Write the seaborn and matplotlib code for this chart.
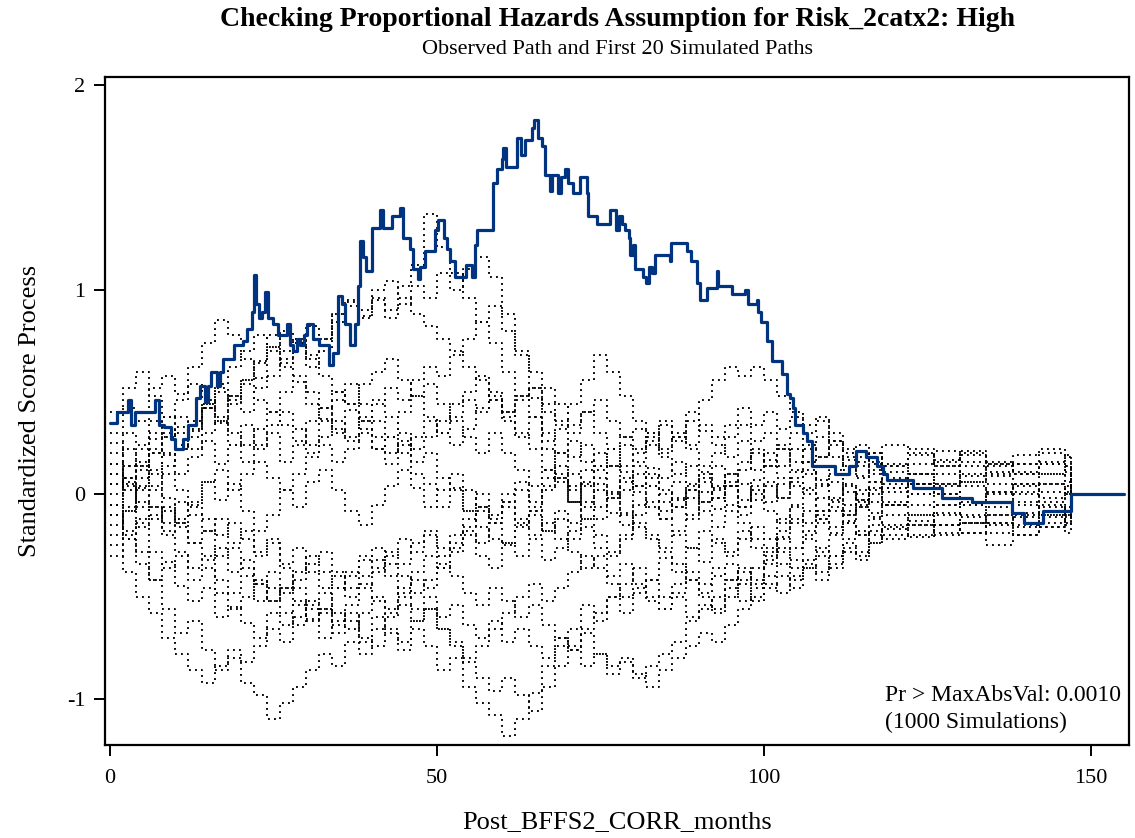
import numpy as np
import pandas as pd
import matplotlib
matplotlib.use("Agg")
import matplotlib.pyplot as plt
import seaborn as sns

# ---------------- data ----------------
title = "Checking Proportional Hazards Assumption for Risk_2catx2: High"
subtitle = "Observed Path and First 20 Simulated Paths"
x_label = "Post_BFFS2_CORR_months"
y_label = "Standardized Score Process"
x_ticks = [0, 50, 100, 150]
y_ticks = [-1, 0, 1, 2]
note_lines = ["Pr > MaxAbsVal: 0.0010", "(1000 Simulations)"]

# observed path (step function: time where value changes, value after change)
obs_t = [0.0, 1.0, 2.8, 3.2, 3.8, 6.9, 7.5, 8.2, 9.4, 10.0, 11.2, 12.0, 13.2, 13.8, 14.6, 15.0,
         15.5, 16.3, 16.8, 17.3, 18.9, 20.4, 20.9, 21.7, 22.0, 22.3, 22.8, 23.2, 23.7, 24.2,
         25.0, 25.7, 27.0, 27.5, 28.0, 28.6, 29.1, 29.6, 30.2, 31.1, 31.9, 33.5, 34.1, 34.8,
         35.4, 35.9, 36.7, 37.5, 37.9, 38.2, 38.7, 39.2, 40.0, 41.3, 41.8, 43.1, 44.3, 44.8,
         45.9, 46.4, 47.1, 47.4, 48.2, 49.7, 50.2, 51.0, 51.5, 52.0, 52.8, 54.5, 55.3, 55.8,
         56.1, 58.6, 59.1, 59.9, 60.1, 60.6, 62.2, 62.9, 63.5, 64.5, 64.8, 65.4, 66.0, 66.5,
         67.3, 67.6, 68.5, 69.0, 69.6, 70.1, 70.8, 71.9, 72.9, 73.1, 74.4, 76.5, 77.3, 77.8,
         78.3, 78.8, 79.3, 79.5, 79.9, 80.3, 81.5, 82.0, 82.4, 82.8, 83.3, 85.6, 85.7, 88.2,
         88.9, 89.7, 90.2, 91.3, 92.8, 93.0, 95.1, 97.1, 97.6, 98.9, 99.1, 99.6, 100.4, 101.2,
         102.7, 103.5, 104.0, 104.4, 104.7, 106.0, 106.5, 107.3, 110.9, 113.0, 114.0, 115.6,
         117.3, 118.2, 118.8, 122.8, 127.2, 131.8, 137.9, 139.8, 142.6, 147.0, 155.0]
obs_y = [0.35, 0.40, 0.46, 0.34, 0.40, 0.46, 0.34, 0.33, 0.27, 0.22, 0.27, 0.34, 0.47, 0.53, 0.45, 0.53,
         0.60, 0.53, 0.60, 0.66, 0.73, 0.75, 0.81, 0.89, 1.07, 0.93, 0.86, 0.89, 0.99, 0.86,
         0.83, 0.78, 0.83, 0.73, 0.70, 0.76, 0.73, 0.78, 0.83, 0.76, 0.73, 0.63, 0.69, 0.97,
         0.93, 0.83, 0.73, 0.83, 1.02, 1.24, 1.16, 1.09, 1.30, 1.39, 1.30, 1.36, 1.40, 1.25,
         1.20, 1.10, 1.05, 1.11, 1.19, 1.29, 1.34, 1.25, 1.20, 1.14, 1.06, 1.12, 1.06, 1.22,
         1.29, 1.52, 1.59, 1.64, 1.69, 1.60, 1.74, 1.66, 1.73, 1.79, 1.83, 1.74, 1.70, 1.56,
         1.48, 1.56, 1.47, 1.55, 1.59, 1.52, 1.47, 1.55, 1.47, 1.36, 1.32, 1.39, 1.29, 1.36,
         1.32, 1.29, 1.25, 1.17, 1.22, 1.10, 1.06, 1.03, 1.11, 1.08, 1.17, 1.14, 1.23, 1.19,
         1.14, 1.03, 0.95, 1.01, 1.09, 1.02, 0.98, 1.00, 0.93, 0.95, 0.89, 0.84, 0.75, 0.65,
         0.59, 0.49, 0.47, 0.42, 0.34, 0.30, 0.26, 0.14, 0.10, 0.14, 0.21, 0.18,
         0.14, 0.10, 0.07, 0.03, -0.02, -0.04, -0.09, -0.14, -0.08, 0.00, 0.00]

# simulated paths on a common time grid (months)
sim_t = [0, 2, 4, 6, 8, 10, 12, 14, 16, 18,
         20, 22, 24, 26, 28, 30, 32, 34, 36, 38,
         40, 42, 44, 46, 48, 50, 52, 54, 56, 58,
         60, 62, 64, 66, 68, 70, 72, 74, 76, 78,
         80, 82, 84, 86, 88, 90, 92, 94, 96, 98,
         100, 102, 104, 106, 108, 110, 112, 114, 116, 118,
         122, 126, 130, 134, 138, 142, 146, 147]

sim_01 = [0.30, 0.42, 0.36, 0.52, 0.58, 0.49, 0.62, 0.74, 0.85, 0.78,
          0.66, 0.57, 0.72, 0.64, 0.55, 0.44, 0.37, 0.30, 0.41, 0.32,
          0.22, 0.15, 0.24, 0.10, 0.05, -0.06, 0.03, -0.08, -0.16, -0.22,
          -0.25, -0.15, -0.08, 0.02, 0.08, -0.04, 0.05, 0.12, 0.01, -0.09,
          0.04, 0.13, 0.08, 0.16, 0.05, 0.11, -0.02, 0.04, -0.06, 0.07,
          0.17, 0.22, 0.12, 0.16, 0.05, 0.10, 0.01, -0.03, 0.06, 0.03,
          0.10, 0.05, 0.14, 0.09, 0.04, 0.10, 0.06, 0.0]
sim_02 = [0.10, 0.22, 0.14, 0.27, 0.19, 0.33, 0.28, 0.42, 0.50, 0.44,
          0.56, 0.65, 0.78, 0.70, 0.76, 0.62, 0.70, 0.84, 0.92, 0.86,
          0.96, 0.90, 1.02, 1.12, 1.37, 1.21, 1.08, 0.96, 0.84, 0.74,
          0.60, 0.48, 0.38, 0.26, 0.32, 0.18, 0.24, 0.14, 0.22, 0.11,
          0.20, 0.30, 0.36, 0.26, 0.40, 0.31, 0.24, 0.18, 0.26, 0.12,
          0.20, 0.14, 0.22, 0.16, 0.07, 0.12, 0.17, 0.09, 0.15, 0.11,
          0.19, 0.14, 0.10, 0.16, 0.11, 0.15, 0.09, 0.0]
sim_03 = [-0.05, 0.08, 0.16, 0.04, 0.14, 0.22, 0.31, 0.42, 0.35, 0.48,
          0.40, 0.52, 0.58, 0.66, 0.73, 0.68, 0.76, 0.88, 0.94, 0.87,
          0.95, 0.86, 0.93, 1.02, 0.96, 1.08, 1.00, 1.10, 1.16, 1.06,
          0.88, 0.68, 0.47, 0.22, 0.08, -0.04, -0.12, 0.02, -0.09, -0.15,
          -0.05, 0.04, -0.08, -0.02, -0.12, 0.01, -0.07, 0.06, -0.03, 0.04,
          -0.04, 0.05, 0.11, 0.03, -0.02, 0.06, -0.05, 0.02, -0.04, 0.03,
          0.00, 0.05, -0.04, 0.01, 0.05, -0.02, 0.04, 0.0]
sim_04 = [-0.10, -0.22, -0.34, -0.42, -0.33, -0.45, -0.52, -0.46, -0.60, -0.55,
          -0.63, -0.70, -0.58, -0.64, -0.52, -0.61, -0.56, -0.68, -0.62, -0.72,
          -0.60, -0.68, -0.76, -0.66, -0.74, -0.86, -0.80, -0.94, -1.02, -1.08,
          -1.18, -1.10, -0.97, -0.84, -0.74, -0.66, -0.54, -0.62, -0.50, -0.44,
          -0.36, -0.42, -0.31, -0.38, -0.26, -0.33, -0.22, -0.28, -0.18, -0.26,
          -0.30, -0.21, -0.26, -0.18, -0.12, -0.19, -0.13, -0.20, -0.15, -0.10,
          -0.15, -0.09, -0.14, -0.06, -0.11, -0.16, -0.10, 0.0]
sim_05 = [-0.05, -0.18, -0.28, -0.42, -0.56, -0.68, -0.62, -0.76, -0.86, -0.80,
          -0.92, -0.98, -1.10, -1.02, -0.94, -0.86, -0.78, -0.84, -0.72, -0.78,
          -0.66, -0.58, -0.50, -0.42, -0.46, -0.36, -0.28, -0.20, -0.30, -0.36,
          -0.24, -0.16, -0.10, -0.18, -0.08, -0.14, -0.04, 0.05, -0.02, 0.08,
          0.01, -0.06, -0.12, -0.03, 0.04, -0.04, 0.02, 0.10, 0.05, -0.03,
          0.04, -0.02, 0.06, 0.00, -0.08, -0.02, 0.04, -0.03, 0.03, -0.05,
          0.00, -0.05, 0.04, 0.00, -0.05, 0.01, -0.05, 0.0]
sim_06 = [0.05, -0.08, 0.03, 0.12, 0.20, 0.10, 0.18, 0.26, 0.15, 0.24,
          0.34, 0.22, 0.30, 0.16, 0.24, 0.36, 0.42, 0.32, 0.26, 0.38,
          0.46, 0.38, 0.30, 0.22, 0.28, 0.36, 0.44, 0.50, 0.58, 0.46,
          0.40, 0.48, 0.52, 0.40, 0.34, 0.44, 0.56, 0.68, 0.60, 0.48,
          0.36, 0.30, 0.22, 0.28, 0.36, 0.46, 0.56, 0.62, 0.58, 0.62,
          0.56, 0.48, 0.40, 0.34, 0.38, 0.30, 0.22, 0.16, 0.20, 0.14,
          0.22, 0.17, 0.21, 0.15, 0.19, 0.22, 0.18, 0.0]
sim_07 = [0.15, 0.05, -0.04, -0.12, -0.06, -0.16, -0.24, -0.18, -0.30, -0.26,
          -0.36, -0.44, -0.38, -0.48, -0.42, -0.34, -0.28, -0.38, -0.46, -0.40,
          -0.32, -0.40, -0.48, -0.56, -0.50, -0.60, -0.54, -0.64, -0.70, -0.62,
          -0.72, -0.66, -0.74, -0.80, -0.70, -0.76, -0.84, -0.78, -0.88, -0.82,
          -0.90, -0.84, -0.78, -0.72, -0.62, -0.56, -0.50, -0.42, -0.36, -0.42,
          -0.32, -0.26, -0.32, -0.22, -0.28, -0.20, -0.14, -0.20, -0.12, -0.17,
          -0.13, -0.19, -0.14, -0.10, -0.16, -0.11, -0.15, 0.0]
sim_08 = [-0.20, -0.08, 0.04, 0.10, -0.02, -0.12, -0.04, 0.06, -0.03, 0.05,
          -0.08, -0.18, -0.10, 0.02, -0.06, 0.06, 0.12, 0.02, -0.08, -0.15,
          -0.05, 0.04, 0.12, 0.03, -0.06, 0.02, 0.10, 0.02, -0.06, -0.12,
          0.00, 0.06, -0.04, 0.08, 0.14, 0.04, -0.06, -0.12, -0.02, 0.06,
          0.14, 0.08, 0.00, -0.06, 0.02, 0.10, 0.03, -0.05, -0.10, 0.00,
          0.06, -0.02, 0.08, 0.12, 0.04, -0.03, 0.05, -0.05, 0.02, 0.08,
          0.05, 0.00, 0.06, -0.04, 0.01, 0.05, 0.00, 0.0]
sim_09 = [0.20, 0.30, 0.24, 0.36, 0.28, 0.38, 0.32, 0.44, 0.52, 0.46,
          0.56, 0.64, 0.70, 0.62, 0.74, 0.82, 0.76, 0.88, 0.95, 0.90,
          1.00, 1.04, 0.96, 0.88, 0.82, 0.76, 0.70, 0.62, 0.56, 0.46,
          0.36, 0.28, 0.38, 0.30, 0.20, 0.26, 0.16, 0.08, 0.14, 0.02,
          0.10, 0.04, -0.04, 0.06, -0.02, 0.08, 0.14, 0.04, 0.12, 0.20,
          0.14, 0.24, 0.30, 0.22, 0.28, 0.18, 0.12, 0.18, 0.10, 0.15,
          0.10, 0.16, 0.20, 0.14, 0.10, 0.16, 0.11, 0.0]
sim_10 = [-0.15, -0.06, -0.16, -0.10, -0.20, -0.14, -0.24, -0.32, -0.26, -0.38,
          -0.32, -0.44, -0.52, -0.46, -0.54, -0.62, -0.56, -0.64, -0.58, -0.70,
          -0.74, -0.66, -0.72, -0.62, -0.56, -0.66, -0.72, -0.80, -0.74, -0.66,
          -0.58, -0.50, -0.44, -0.52, -0.46, -0.38, -0.30, -0.36, -0.44, -0.50,
          -0.46, -0.52, -0.56, -0.48, -0.42, -0.50, -0.56, -0.46, -0.38, -0.44,
          -0.34, -0.28, -0.36, -0.32, -0.26, -0.30, -0.22, -0.18, -0.24, -0.15,
          -0.10, -0.15, -0.10, -0.14, -0.09, -0.05, -0.10, 0.0]
sim_11 = [0.40, 0.52, 0.60, 0.48, 0.38, 0.30, 0.22, 0.30, 0.36, 0.24,
          0.16, 0.24, 0.34, 0.40, 0.32, 0.24, 0.36, 0.46, 0.54, 0.44,
          0.36, 0.28, 0.40, 0.48, 0.38, 0.30, 0.24, 0.32, 0.42, 0.50,
          0.40, 0.30, 0.22, 0.12, 0.20, 0.10, 0.04, 0.14, 0.22, 0.28,
          0.32, 0.24, 0.18, 0.10, 0.14, 0.06, -0.02, 0.04, -0.06, 0.02,
          -0.08, -0.14, -0.05, 0.02, -0.10, -0.16, -0.08, 0.00, 0.06, 0.01,
          0.05, 0.10, 0.06, 0.11, 0.15, 0.10, 0.14, 0.0]
sim_12 = [0.00, 0.08, 0.02, -0.06, -0.14, -0.04, -0.10, -0.18, -0.12, -0.24,
          -0.18, -0.28, -0.22, -0.34, -0.26, -0.38, -0.46, -0.40, -0.50, -0.44,
          -0.52, -0.60, -0.54, -0.62, -0.56, -0.66, -0.74, -0.82, -0.90, -0.96,
          -0.90, -0.98, -1.06, -0.94, -0.84, -0.74, -0.66, -0.58, -0.50, -0.58,
          -0.48, -0.42, -0.50, -0.44, -0.38, -0.44, -0.36, -0.42, -0.52, -0.46,
          -0.40, -0.34, -0.42, -0.36, -0.30, -0.36, -0.28, -0.32, -0.24, -0.20,
          -0.20, -0.15, -0.19, -0.14, -0.20, -0.16, -0.11, 0.0]
sim_13 = [0.10, 0.02, 0.12, 0.22, 0.30, 0.24, 0.36, 0.44, 0.54, 0.62,
          0.70, 0.78, 0.72, 0.80, 0.74, 0.66, 0.58, 0.50, 0.44, 0.36,
          0.28, 0.20, 0.26, 0.16, 0.20, 0.08, 0.02, -0.08, 0.00, -0.10,
          -0.04, -0.14, -0.08, -0.18, -0.12, -0.22, -0.16, -0.26, -0.30, -0.20,
          -0.10, -0.04, -0.12, -0.20, -0.26, -0.18, -0.24, -0.30, -0.22, -0.16,
          -0.22, -0.12, -0.06, -0.14, -0.08, -0.04, -0.10, -0.06, -0.11, -0.05,
          -0.10, -0.05, -0.11, -0.15, -0.10, -0.06, -0.10, 0.0]
sim_14 = [-0.25, -0.38, -0.50, -0.58, -0.70, -0.78, -0.86, -0.92, -0.84, -0.76,
          -0.82, -0.74, -0.66, -0.72, -0.60, -0.52, -0.58, -0.46, -0.38, -0.30,
          -0.36, -0.28, -0.34, -0.24, -0.18, -0.26, -0.20, -0.12, -0.06, -0.14,
          -0.04, 0.02, -0.06, 0.04, 0.10, 0.02, 0.12, 0.20, 0.14, 0.24,
          0.16, 0.26, 0.34, 0.28, 0.22, 0.14, 0.20, 0.28, 0.34, 0.26,
          0.30, 0.22, 0.16, 0.24, 0.18, 0.26, 0.14, 0.08, 0.12, 0.05,
          0.10, 0.04, 0.09, 0.05, 0.00, 0.05, 0.01, 0.0]
sim_15 = [-0.10, -0.22, -0.14, -0.28, -0.36, -0.30, -0.42, -0.36, -0.48, -0.56,
          -0.50, -0.42, -0.52, -0.46, -0.38, -0.30, -0.38, -0.46, -0.40, -0.32,
          -0.26, -0.34, -0.40, -0.48, -0.42, -0.34, -0.40, -0.48, -0.54, -0.46,
          -0.52, -0.60, -0.54, -0.64, -0.70, -0.76, -0.68, -0.78, -0.84, -0.80,
          -0.88, -0.94, -0.86, -0.80, -0.74, -0.68, -0.72, -0.64, -0.56, -0.50,
          -0.44, -0.48, -0.40, -0.34, -0.38, -0.30, -0.24, -0.28, -0.18, -0.22,
          -0.15, -0.20, -0.14, -0.19, -0.15, -0.10, -0.14, 0.0]
sim_16 = [0.15, 0.06, 0.14, 0.20, 0.10, 0.02, -0.05, 0.06, 0.12, 0.02,
          0.10, 0.16, 0.08, 0.02, 0.10, 0.18, 0.24, 0.16, 0.22, 0.30,
          0.22, 0.28, 0.20, 0.28, 0.36, 0.30, 0.38, 0.46, 0.40, 0.48,
          0.38, 0.46, 0.52, 0.44, 0.36, 0.30, 0.40, 0.46, 0.36, 0.28,
          0.22, 0.28, 0.20, 0.30, 0.24, 0.34, 0.28, 0.34, 0.42, 0.34,
          0.40, 0.32, 0.38, 0.30, 0.36, 0.26, 0.18, 0.24, 0.16, 0.24,
          0.20, 0.14, 0.19, 0.15, 0.10, 0.15, 0.19, 0.0]
sim_17 = [-0.30, -0.20, -0.12, -0.06, -0.18, -0.28, -0.36, -0.30, -0.42, -0.48,
          -0.40, -0.52, -0.46, -0.58, -0.64, -0.56, -0.70, -0.62, -0.54, -0.46,
          -0.38, -0.30, -0.22, -0.28, -0.20, -0.30, -0.24, -0.16, -0.08, -0.14,
          -0.24, -0.30, -0.22, -0.32, -0.26, -0.18, -0.12, -0.20, -0.28, -0.22,
          -0.14, -0.20, -0.28, -0.34, -0.42, -0.48, -0.40, -0.34, -0.42, -0.36,
          -0.28, -0.22, -0.14, -0.08, -0.12, -0.06, -0.10, -0.04, -0.09, -0.05,
          -0.05, -0.10, -0.05, -0.10, -0.04, -0.10, -0.06, 0.0]
sim_18 = [0.05, 0.14, 0.22, 0.30, 0.38, 0.46, 0.54, 0.46, 0.38, 0.30,
          0.24, 0.32, 0.40, 0.34, 0.26, 0.20, 0.28, 0.36, 0.28, 0.36,
          0.44, 0.52, 0.46, 0.56, 0.62, 0.58, 0.68, 0.76, 0.84, 0.92,
          0.80, 0.70, 0.60, 0.52, 0.44, 0.34, 0.40, 0.30, 0.22, 0.14,
          0.04, 0.10, 0.02, -0.06, 0.02, -0.08, -0.16, -0.08, -0.14, -0.22,
          -0.26, -0.18, -0.12, -0.20, -0.14, -0.08, -0.14, -0.06, 0.00, -0.04,
          0.05, 0.00, -0.05, 0.01, 0.05, -0.04, 0.00, 0.0]
sim_19 = [-0.05, 0.04, -0.06, 0.02, -0.08, -0.14, -0.06, -0.12, -0.20, -0.14,
          -0.22, -0.30, -0.24, -0.36, -0.46, -0.54, -0.48, -0.58, -0.66, -0.58,
          -0.50, -0.56, -0.46, -0.38, -0.30, -0.36, -0.26, -0.18, -0.24, -0.14,
          -0.06, -0.12, -0.20, -0.14, -0.22, -0.28, -0.36, -0.30, -0.40, -0.34,
          -0.44, -0.50, -0.56, -0.50, -0.60, -0.54, -0.58, -0.50, -0.44, -0.52,
          -0.46, -0.40, -0.46, -0.36, -0.42, -0.34, -0.26, -0.30, -0.20, -0.16,
          -0.21, -0.15, -0.19, -0.25, -0.20, -0.14, -0.19, 0.0]
sim_20 = [0.25, 0.14, 0.08, 0.20, 0.28, 0.22, 0.34, 0.42, 0.36, 0.48,
          0.54, 0.46, 0.40, 0.50, 0.58, 0.50, 0.42, 0.50, 0.44, 0.54,
          0.60, 0.66, 0.56, 0.48, 0.54, 0.44, 0.36, 0.28, 0.20, 0.30,
          0.20, 0.12, 0.04, 0.12, 0.06, -0.04, 0.06, -0.06, 0.00, -0.10,
          -0.16, -0.22, -0.26, -0.18, -0.10, -0.04, 0.04, 0.10, 0.16, 0.22,
          0.14, 0.08, 0.04, 0.10, 0.18, 0.24, 0.20, 0.14, 0.20, 0.14,
          0.15, 0.21, 0.16, 0.10, 0.15, 0.20, 0.14, 0.0]

sim_paths = [sim_01, sim_02, sim_03, sim_04, sim_05, sim_06, sim_07, sim_08, sim_09, sim_10,
             sim_11, sim_12, sim_13, sim_14, sim_15, sim_16, sim_17, sim_18, sim_19, sim_20]

# ---------------- tables ----------------
sim_df = pd.concat(
    [pd.DataFrame({"t": sim_t, "v": p, "path": i}) for i, p in enumerate(sim_paths)],
    ignore_index=True)
obs_df = pd.DataFrame({"t": obs_t, "v": obs_y})

# ---------------- style ----------------
sns.set_theme(style="white")
plt.rcParams["font.family"] = ["Liberation Serif", "DejaVu Serif"]
for k in ["text.color", "axes.labelcolor", "xtick.color", "ytick.color", "axes.edgecolor"]:
    plt.rcParams[k] = "black"

W, H = 1135, 838
fig = plt.figure(figsize=(W / 100, H / 100), dpi=100)
left, right, top, bottom = 105, 1129, 77, 745
ax = fig.add_axes([left / W, (H - bottom) / H, (right - left) / W, (bottom - top) / H])

sns.lineplot(data=sim_df, x="t", y="v", units="path", estimator=None, ax=ax,
             color="black", linestyle=(0, (1.0, 2.2)), linewidth=1.35,
             drawstyle="steps-post", legend=False)
sns.lineplot(data=obs_df, x="t", y="v", estimator=None, ax=ax,
             color="#003380", linewidth=2.3, drawstyle="steps-post", legend=False)

ax.set_xlim(-0.76, 155.8)
ax.set_ylim(-1.225, 2.039)
ax.set_xticks(x_ticks)
ax.set_yticks(y_ticks)
ax.set_xticklabels([str(v) for v in x_ticks], fontsize=16)
ax.set_yticklabels([str(v) for v in y_ticks], fontsize=16)
ax.tick_params(axis="both", direction="out", length=8, width=1.4, color="black",
               bottom=True, left=True, top=False, right=False)
ax.tick_params(axis="x", pad=9)
ax.tick_params(axis="y", pad=6)
for s in ax.spines.values():
    s.set_visible(True)
    s.set_color("black")
    s.set_linewidth(1.6)
ax.grid(False)

ax.set_xlabel(x_label, fontsize=19)
ax.set_ylabel(y_label, fontsize=19)
ax.xaxis.set_label_coords(0.5, (bottom - 822) / (bottom - top))
ax.xaxis.label.set_va("center")
ax.yaxis.set_label_coords((30 - left) / (right - left), 0.5)
ax.yaxis.label.set_va("center")

fig.text(617 / W, 1 - 19 / H, title, ha="center", va="center", fontsize=20,
         fontweight="bold")
fig.text(617 / W, 1 - 49 / H, subtitle, ha="center", va="center", fontsize=16)

ax.text((885 - left) / (right - left), (bottom - 695) / (bottom - top), note_lines[0],
        transform=ax.transAxes, fontsize=17, ha="left", va="center")
ax.text((885 - left) / (right - left), (bottom - 722) / (bottom - top), note_lines[1],
        transform=ax.transAxes, fontsize=17, ha="left", va="center")

fig.savefig("out.png", dpi=100)
